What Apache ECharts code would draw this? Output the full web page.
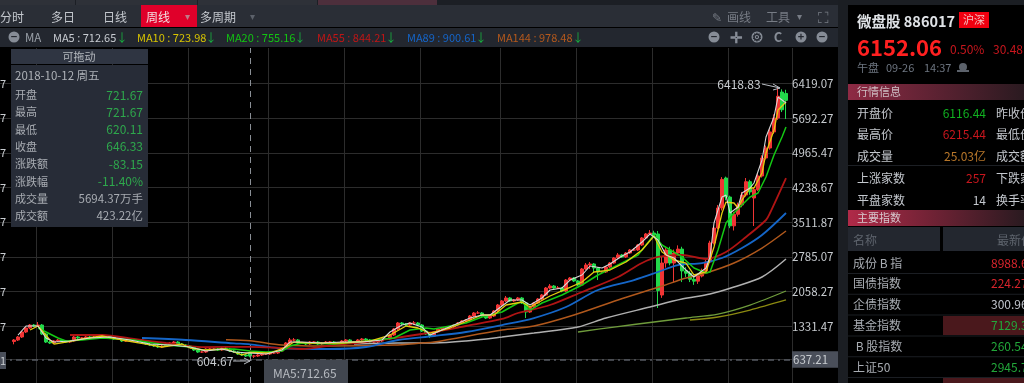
<!DOCTYPE html>
<html><head><meta charset="utf-8">
<style>html,body{margin:0;padding:0;background:#000;overflow:hidden}#c{width:1024px;height:383px}</style>
<script src="https://cdn.jsdelivr.net/npm/echarts@6/dist/echarts.min.js"></script></head>
<body><div id="c"></div>
<script>
const firstBar = 3, categoryCount = 198;
const opens = [960,993,1057,1165,1251,1315,1294,1315,1122,949,
928,971,993,971,949,971,1057,1036,1036,1057,
1036,1057,1079,1079,1079,1057,1014,1014,971,971,
971,993,993,949,906,885,863,842,863,885,
928,949,906,885,863,842,777,734,734,799,
799,799,777,820,799,756,734,691,670,721.67,
646,648,670,691,691,713,713,756,820,928,
993,993,928,928,906,949,949,906,928,949,
949,928,928,971,993,949,949,993,1014,993,
949,949,971,1014,1014,1100,1229,1359,1337,1315,
1359,1359,1315,1186,1122,1079,1165,1229,1251,1251,
1272,1315,1359,1402,1423,1509,1574,1574,1509,1466,
1509,1617,1746,1832,1897,1832,1854,1897,1789,1595,
1703,1789,1875,1961,2112,2155,2112,2112,2048,2284,
2327,2263,2177,2521,2607,2629,2543,2457,2457,2564,
2650,2758,2823,2780,2866,2930,2930,3038,3189,3275,
3296,3275,1961,2650,2930,2650,2866,2950,2480,2430,
2300,2260,2370,2480,2672,3081,3404,3835,4480,4070,
3450,3700,3900,4114,4400,4050,4230,4523,4911,5126,
5471,5772,6330,6300];
const closes = [993,1057,1165,1251,1315,1294,1315,1122,949,928,
971,993,971,949,971,1057,1036,1036,1057,1036,
1057,1079,1079,1079,1057,1014,1014,971,971,971,
993,993,949,906,885,863,842,863,885,928,
949,906,885,863,842,777,734,734,799,799,
799,777,820,799,756,734,691,670,648,646.33,
648,670,691,691,713,713,756,820,928,993,
993,928,928,906,949,949,906,928,949,949,
928,928,971,993,949,949,993,1014,993,949,
949,971,1014,1014,1100,1229,1359,1337,1315,1359,
1359,1315,1186,1122,1079,1165,1229,1251,1251,1272,
1315,1359,1402,1423,1509,1574,1574,1509,1466,1509,
1617,1746,1832,1897,1832,1854,1897,1789,1595,1703,
1789,1875,1961,2112,2155,2112,2112,2048,2284,2327,
2263,2177,2521,2607,2629,2543,2457,2457,2564,2650,
2758,2823,2780,2866,2930,2930,3038,3189,3275,3296,
3253,2060,2650,2930,2650,2866,2950,2480,2430,2300,
2260,2370,2480,2672,3081,3404,3835,4450,4070,3450,
3700,3900,4114,4400,4180,4230,4523,4911,5126,5471,
5772,6240,5950,6152.06];
const highs = [1014,1079,1186,1272,1337,1337,1380,1337,1143,971,
993,1014,1014,993,993,1079,1079,1057,1079,1079,
1079,1100,1100,1100,1100,1079,1036,1036,993,993,
1014,1014,1014,971,928,906,885,885,906,949,
971,971,928,906,885,863,799,756,820,820,
820,820,842,842,820,777,756,713,691,721.67,
670,691,713,713,734,734,777,842,949,1036,
1036,1014,949,949,971,971,971,949,971,971,
971,949,993,1014,1014,971,1014,1036,1036,1014,
971,993,1036,1036,1122,1251,1380,1380,1359,1380,
1402,1380,1337,1208,1143,1186,1251,1272,1272,1294,
1337,1380,1423,1445,1531,1595,1617,1595,1531,1531,
1638,1768,1854,1940,1919,1875,1919,1919,1811,1725,
1811,1897,1983,2134,2198,2177,2155,2134,2306,2349,
2349,2284,2543,2650,2672,2650,2564,2478,2586,2672,
2780,2866,2845,2887,2952,2973,3060,3210,3296,3360,
3345,3340,2780,3000,3000,2940,3030,3000,2560,2480,
2380,2420,2530,2720,3130,3450,3900,4500,4510,4100,
3750,3950,4180,4480,4440,4280,4580,4970,5180,5530,
5850,6418.83,6390,6380];
const lows = [900,971,1036,1143,1229,1272,1272,1100,928,906,
906,949,949,928,928,949,1014,1014,1014,1014,
1014,1036,1057,1057,1036,993,993,949,949,949,
949,971,928,885,863,842,820,820,842,863,
906,885,863,842,820,756,713,713,713,777,
777,756,756,777,734,713,670,648,627,620.11,
604.67,627,648,670,670,691,691,734,799,906,
971,906,906,885,885,928,885,885,906,928,
906,906,906,949,928,928,928,971,971,928,
928,928,949,993,993,1079,1208,1315,1294,1294,
1315,1294,1165,1100,1036,1057,1143,1208,1229,1229,
1251,1294,1337,1380,1402,1488,1552,1488,1445,1445,
1488,1595,1725,1811,1811,1811,1832,1768,1466,1575,
1682,1768,1854,1940,2090,2090,2090,2020,2026,2262,
2240,2155,2155,2500,2521,2435,2284,2435,2435,2543,
2630,2736,2758,2758,2845,2908,2908,3016,3168,3253,
3232,1682,1900,2550,2600,2240,2800,2240,2350,2240,
2180,2200,2340,2450,2650,3050,3380,3780,4000,3400,
3350,3650,3850,4080,4120,3447,4200,4490,4880,5090,
5430,5730,5900,5750];

// moving averages: [category index, value]
const ma5 = [[4,1100],[6,1294],[9,1294],[11,1036],[13,949],[17,971],[22,1036],[27,1057],[32,993],[37,906],[42,885],[47,842],[51,756],[55,799],[58,734],[62,712.65],[66,691],[70,777],[72,949],[75,949],[80,928],[85,949],[90,949],[95,993],[97,1165],[100,1315],[102,1359],[105,1272],[107,1100],[110,1208],[113,1315],[117,1466],[120,1531],[122,1531],[125,1725],[127,1854],[130,1854],[132,1746],[135,1897],[137,2069],[140,2112],[142,2284],[145,2392],[147,2586],[150,2543],[152,2629],[155,2801],[157,2887],[160,3102],[162,3275],[164,3145],[166,2823],[168,2758],[171,2499],[173,2349],[176,2543],[177,2780],[178,3511],[180,4071],[181,4114],[182,3727],[184,3856],[185,4157],[187,4265],[188,4373],[190,4868],[191,5363],[193,5794],[194,6224],[196,6095]];
const ma10 = [[7,1208],[9,1294],[12,993],[13,906],[16,949],[20,1014],[25,1079],[30,993],[36,906],[40,842],[45,906],[47,820],[51,777],[56,799],[60,670],[62,723.98],[67,713],[71,842],[73,949],[77,928],[85,928],[92,971],[97,1100],[101,1294],[104,1251],[107,1143],[112,1251],[117,1423],[120,1531],[123,1531],[126,1746],[130,1811],[132,1703],[137,1940],[141,2090],[145,2241],[148,2457],[152,2499],[156,2672],[160,2930],[163,3232],[165,2887],[168,2715],[171,2650],[173,2392],[176,2457],[178,2995],[180,3727],[181,3963],[183,3942],[184,3835],[185,4006],[187,4265],[188,4265],[190,4588],[191,5018],[193,5513],[194,5944],[196,6116]];
const ma20 = [[9,1251],[14,1036],[16,971],[20,993],[25,1036],[33,993],[41,885],[47,842],[50,777],[58,799],[62,755.16],[66,734],[70,756],[72,863],[75,928],[83,906],[91,971],[98,1036],[102,1208],[106,1251],[108,1229],[116,1359],[120,1488],[125,1595],[129,1789],[130,1811],[132,1638],[135,1789],[140,1961],[145,2177],[149,2392],[153,2564],[159,2823],[163,3253],[165,3038],[170,2780],[173,2543],[176,2435],[177,2457],[179,2930],[181,3511],[183,3727],[185,3899],[187,4071],[189,4157],[191,4502],[193,4976],[195,5363],[196,5579]];
const ma55 = [[17,1100],[25,1100],[33,1014],[41,928],[50,841],[62,844.21],[70,820],[75,799],[83,885],[91,949],[100,1057],[108,1165],[116,1294],[125,1445],[129,1574],[137,1746],[145,2026],[154,2348],[160,2650],[164,2780],[170,2823],[176,2737],[181,2887],[186,3210],[191,3576],[192,3727],[196,4480]];
const ma89 = [[35,1036],[46,993],[58,920],[62,900.61],[69,820],[82,799],[91,842],[99,993],[108,1079],[116,1165],[125,1315],[133,1466],[141,1703],[149,2069],[158,2284],[164,2457],[169,2607],[175,2650],[180,2758],[185,2973],[190,3253],[196,3727]];
const ma144 = [[56,1000],[62,978.48],[70,885],[82,863],[98,885],[105,928],[108,949],[125,1208],[133,1294],[143,1531],[154,1854],[165,2155],[171,2327],[176,2435],[183,2650],[190,2973],[196,3339]];
const longGray = [[88,906],[99,928],[108,928],[116,971],[125,1057],[133,1143],[144,1272],[151,1466],[162,1703],[170,1875],[177,1983],[183,2134],[190,2349],[196,2736]];
const longGreen = [[144,1165],[153,1272],[163,1380],[171,1466],[179,1552],[187,1746],[196,2048]];
const longYellow = [[172,1423],[179,1488],[187,1638],[196,1854]];

const yTicks = [6419.07,5692.27,4965.47,4238.67,3511.87,2785.07,2058.27,1331.47,637.21];
const verticalGridIdx = [9,28,47,67,86,105,125,144,163,182];
const crosshairIdx = 62, peakIdx = 194, troughIdx = 63;
const maLegendNames = ['MA5','MA10','MA20','MA55','MA89','MA144'];
const maLegendValues = ['712.65','723.98','755.16','844.21','900.61','978.48'];
const maColors = ['#cfcfcf','#d8c400','#12c412','#c01616','#1565c8','#b5591c'];
const tipLabels = ['开盘','最高','最低','收盘','涨跌额','涨跌幅','成交量','成交额'];
const tipValues = ['721.67','721.67','620.11','646.33','-83.15','-11.40%','5694.37万手','423.22亿'];
const indexNames = ['成份 B 指','国债指数','企债指数','基金指数',' B 股指数','上证50'];
const indexValues = ['8988.65','224.27','300.96','7129.38','260.54','2945.72'];
const indexColors = ['#d8242c','#d8242c','#c0c4cc','#22a83a','#22a83a','#22a83a'];

const FONT = '"Noto Sans CJK SC","Noto Sans",sans-serif';
const g = [];
const rect = (x,y,w,h,fill) => g.push({type:'rect',silent:true,z:10,shape:{x,y,width:w,height:h},style:{fill}});
const text = (x,y,s,fill,size=12,align='left',weight='normal') => g.push({type:'text',silent:true,z:12,x,y,style:{text:s,fill,font:`${weight} ${size}px ${FONT}`,align,verticalAlign:'middle'}});
const grad = (c1,c2) => ({type:'linear',x:0,y:0,x2:1,y2:0,colorStops:[{offset:0,color:c1},{offset:1,color:c2}]});
const icon = (x,y,s) => { g.push({type:'circle',silent:true,z:11,shape:{cx:x,cy:y,r:5.5},style:{fill:'#868c96'}}); text(x,y,s,'#23272f',11,'center','bold'); };
const arrow = (pts,head) => { g.push({type:'polyline',silent:true,z:12,shape:{points:pts},style:{stroke:'#b8bcc2',lineWidth:1,fill:'none'}}); g.push({type:'polyline',silent:true,z:12,shape:{points:head},style:{stroke:'#b8bcc2',lineWidth:1,fill:'none'}}); };

rect(0,0,838,5,'#1c1f25'); rect(0,0,75,5,'#2e3138'); rect(76,0,121,5,'#2e3138'); rect(198,0,119,5,'#2e3138'); rect(318,0,119,5,'#4d2f3c');
rect(0,5,838,22,'#2a2e36');
rect(141,5,56,22,'#e0002a');
text(0,17,'分时','#c4c8ce'); text(51,17,'多日','#c4c8ce'); text(103,17,'日线','#c4c8ce'); text(146,17,'周线','#f2dfe2');
text(187,16,'▾','#c07a88',10,'center'); text(200,17,'多周期','#c4c8ce'); text(252,16,'▾','#5c616a',10,'center');
text(712,17,'✎','#777c85',12); text(727,17,'画线','#777c85'); text(766,17,'工具','#777c85'); text(799,16,'▾','#777c85',10,'center');
text(823,17,'⛶','#777c85',15,'center');
rect(0,28,838,19,'#23272f');
icon(14,37,'−'); text(25,38,'MA','#9aa0a8',11.5);
const legendX = [53,137,226,317,407,497];
maLegendNames.forEach((n,i)=>{ const s=`${n} : ${maLegendValues[i]}`; text(legendX[i],38,s,i===0?'#c8ccd2':maColors[i],11);
  text(legendX[i]+(i===0?69:(i===5?81:74)),38,'↓','#18b040',11.5,'center'); });
['−','✛','⚙','C','+','−'].forEach((s,i)=>{ const x=[714,736,757,778,801,822][i];
  if(i===1||i===3) text(x,37,s,'#868c96',i===1?15:13,'center','bold'); else icon(x,37,s); });
[84,118,153,188,222,257,292,327].forEach(y=>text(0,y,'7','#c8ccd0',11));
rect(0,352,6,17,'#4a4f5a'); text(0,361,'1','#c8ccd0',11);
rect(11,49,137,15,'#2f3542'); rect(11,65,137,162,'#272c37');
text(79,57,'可拖动','#b4b8be',11,'center'); text(15,76,'2018-10-12 周五','#aeb2b8',11.5);
const tipColors = ['#2ea84c','#2ea84c','#2ea84c','#2ea84c','#2ea84c','#2ea84c','#a8acb2','#a8acb2'];
tipLabels.forEach((l,i)=>{const y=95+i*17.3; text(15,y,l,'#a8acb2',11); text(143,y,tipValues[i],tipColors[i],i>5?11.5:12,'right');});
rect(264,360,84,23,'#41464f'); text(273,373,'MA5:712.65','#b6bac0',12);
arrow([[762,84],[780,88]],[[773,84],[780,88],[773,90]]);
arrow([[233,361],[250,361]],[[244,358],[250,361],[244,364]]);
rect(838,0,186,383,'#1b1e23'); rect(848,5,176,378,'#000');
text(857,21,'微盘股 886017','#dfe2e6',14.5,'left','bold');
rect(959,12,30,16,'#f00010'); text(974,20,'沪深','#f3c0c0',11,'center');
text(857,48,'6152.06','#ff2020',22,'left','bold');
text(950,49,'0.50%','#c8161d',12); text(993,49,'30.48','#c8161d',12);
text(857,68,'午盘','#6d7580',11); text(886,68,'09-26','#6d7580',11); text(924,68,'14:37','#6d7580',11);
g.push({type:'circle',silent:true,z:11,shape:{cx:963,cy:67,r:4},style:{fill:'#5c626b'}}); rect(957,70,12,2,'#5c626b');
rect(848,84,176,16,grad('#8e2a44','#2a1a20')); text(857,92,'行情信息','#d0c0c6',11);
[['开盘价','6116.44','#10b020','昨收价',113],['最高价','6215.44','#c8161d','最低价',134],['成交量','25.03亿','#b8772a','成交额',156],['上涨家数','257','#c8161d','下跌家数',178],['平盘家数','14','#c4c8ce','换手率',200]].forEach(r=>{
  text(857,r[4],r[0],'#c4c8ce',12); text(986,r[4],r[1],r[2],12,'right'); text(996,r[4],r[3],'#c4c8ce',12); });
rect(848,165,176,1,'#1c1f24');
rect(848,210,176,16,grad('#b02a48','#2a1a20')); text(857,218,'主要指数','#d8c8ce',11);
rect(848,227,92,24,'#23272f'); rect(943,227,81,24,'#23272f');
text(853,240,'名称','#5e646d',12); text(997,240,'最新价','#5e646d',12);
rect(943,316,81,19,'#4a181c'); rect(943,378,81,5,'#4a181c');
indexNames.forEach((n,i)=>{ const y=263+i*20.8; text(853,y,n,'#a8acb2',12); text(991,y,indexValues[i],indexColors[i],12);
  rect(848,y+10,176,1,'#1b1e23'); });

const lineSeries = (name,data,color,width=1.5,smooth=false) => ({name,type:'line',data,smooth,showSymbol:false,symbol:'none',yAxisIndex:1,z:5,silent:true,
  lineStyle:{color,width},itemStyle:{color}});

const blank = ['-','-','-','-'];
const candles = [...Array(firstBar).fill(blank), ...opens.map((o,i)=>[o,closes[i],lows[i],highs[i]])];
const markLabel = {show:true,color:'#c8ccd0',fontSize:12,fontFamily:FONT};

const option = {
  backgroundColor:'#000',animation:false,
  grid:{left:0,top:48,width:792,height:335,containLabel:false},
  xAxis:{type:'category',data:Array.from({length:categoryCount},(_,i)=>String(i)),boundaryGap:true,
    axisLine:{show:false},axisTick:{show:false},axisLabel:{show:false},
    splitLine:{show:true,interval:(i)=>verticalGridIdx.includes(i),lineStyle:{color:'#2c2c2c',width:1}}},
  yAxis:[
    {type:'value',position:'right',min:144,max:7163,
     axisLine:{show:false},axisTick:{show:false,customValues:yTicks},
     splitLine:{show:true,lineStyle:{color:'#2c2c2c',width:1}},
     axisLabel:{customValues:yTicks,inside:false,margin:0,color:'#c8ccd0',fontSize:11.5,fontFamily:FONT,
       formatter:v=>{const s=v.toFixed(2);return s==='637.21'?`{hl|${s}}`:s;},
       rich:{hl:{backgroundColor:'#4a4f5a',color:'#c8ccd0',fontSize:11.5,fontFamily:FONT,padding:[3,10,2,1]}}}},
    {type:'value',position:'left',min:67,max:7279,show:false}
  ],
  graphic:{elements:g},
  series:[
    {type:'line',data:[],yAxisIndex:0,silent:true,
     markLine:{silent:true,symbol:'none',label:{show:false},animation:false,
       data:[{yAxis:637.21,lineStyle:{color:'#555a62',type:[6,4,2,4],width:1.5}}]}},
    {type:'candlestick',data:candles,yAxisIndex:1,barWidth:3,z:3,silent:true,
     itemStyle:{color:'#f03434',color0:'#22d84a',borderColor:'#f03434',borderColor0:'#22d84a',borderWidth:1},
     markLine:{silent:true,symbol:'none',label:{show:false},animation:false,
       data:[{xAxis:crosshairIdx,lineStyle:{color:'#8a8f96',type:[6,5],width:1}}]},
     markPoint:{silent:true,symbol:'circle',symbolSize:0,animation:false,
       data:[
        {coord:[peakIdx,6418.83],label:{...markLabel,formatter:'6418.83',position:'inside',offset:[-39,-4]}},
        {coord:[troughIdx,604.67],label:{...markLabel,formatter:'604.67',position:'inside',offset:[-39,3]}}
       ]}},
    lineSeries('long3',longYellow,'#8c8a10',1.3,0.3),
    lineSeries('long2',longGreen,'#6f9c3c',1.3,0.3),
    lineSeries('long1',longGray,'#b0b0b0',1.5,0.3),
    lineSeries('MA144',ma144,'#b0581c',1.5,0.3),
    lineSeries('MA89',ma89,'#1566c8',1.8,0.3),
    lineSeries('MA55',ma55,'#b01414',1.8,0.3),
    lineSeries('MA20',ma20,'#14c814',1.5),
    lineSeries('MA10',ma10,'#e4cc10',1.3),
    lineSeries('MA5',ma5,'#d8d8d8',1.1)
  ]
};
const chart = echarts.init(document.getElementById('c'),null,{renderer:'canvas'});
chart.setOption(option);
</script></body></html>
